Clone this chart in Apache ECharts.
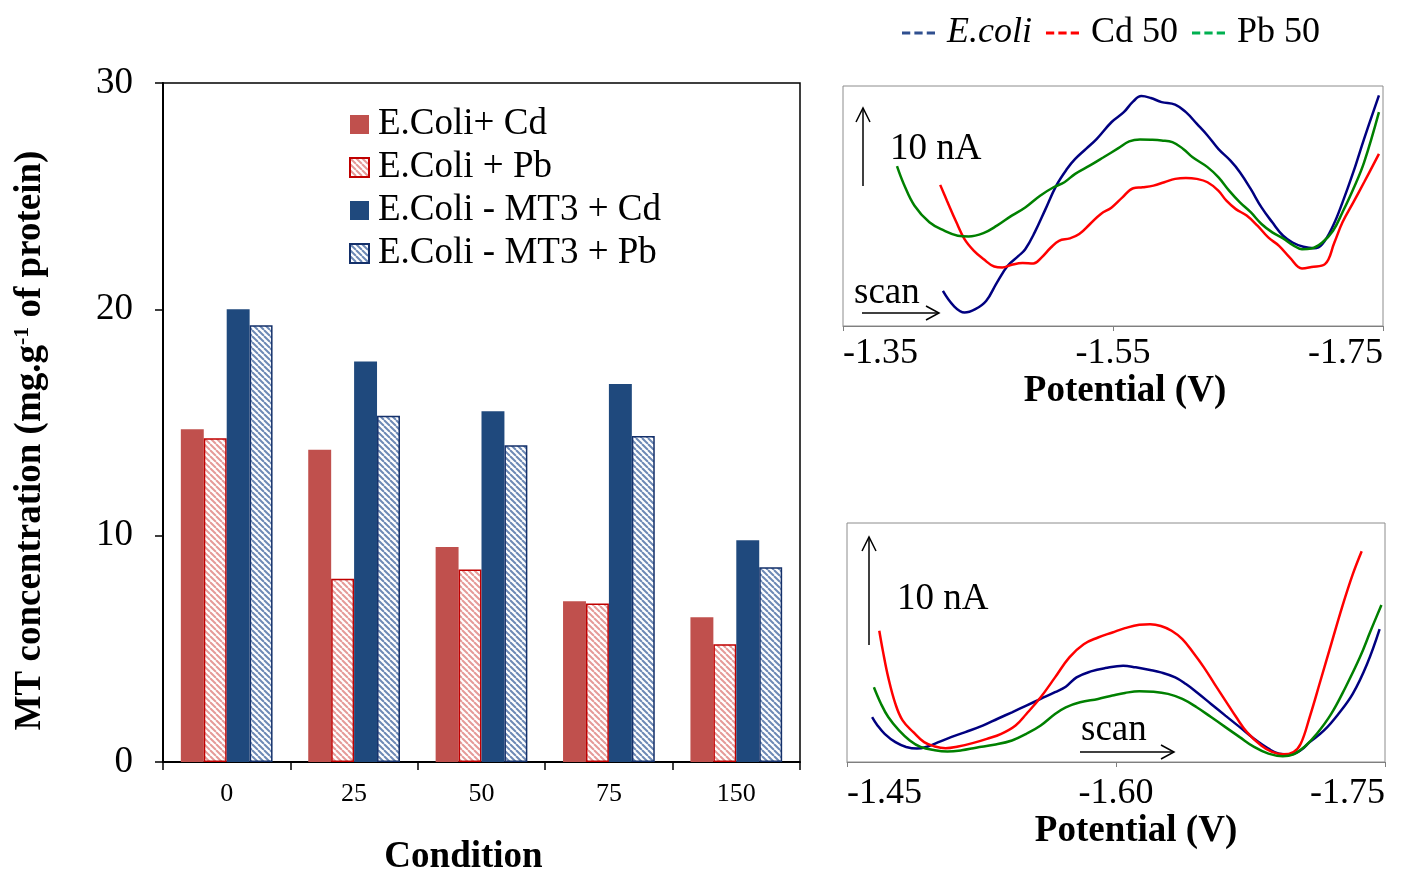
<!DOCTYPE html>
<html>
<head>
<meta charset="utf-8">
<script src="https://cdn.jsdelivr.net/npm/echarts@6/dist/echarts.min.js"></script>
<style>
  html, body { margin: 0; padding: 0; background: #fff; }
  #chart { width: 1404px; height: 871px; }
</style>
</head>
<body>
<div id="chart"></div>
<script>
// bar chart data
const conditions = ['0', '25', '50', '75', '150'];
const ecoliCd = [14.7, 13.8, 9.5, 7.1, 6.4];
const ecoliPb = [14.3, 8.1, 8.5, 7.0, 5.2];
const mt3Cd = [20.0, 17.7, 15.5, 16.7, 9.8];
const mt3Pb = [19.3, 15.3, 14.0, 14.4, 8.6];
const barTicks = [0, 10, 20, 30];

// voltammograms, top panel: [potential V, relative current]
const topEcoli = [[-1.424,14.6],[-1.432,8.4],[-1.440,5.6],[-1.448,7.0],[-1.456,10.4],[-1.464,18.1],[-1.472,25.1],[-1.480,29.2],[-1.485,32.0],[-1.492,39.0],[-1.500,48.7],[-1.508,58.5],[-1.516,65.5],[-1.522,69.6],[-1.530,73.8],[-1.538,78.0],[-1.549,85.0],[-1.558,89.1],[-1.565,93.6],[-1.571,95.8],[-1.578,95.0],[-1.586,93.3],[-1.596,92.2],[-1.604,89.1],[-1.612,84.3],[-1.620,79.4],[-1.628,73.8],[-1.637,68.9],[-1.644,64.1],[-1.652,57.1],[-1.660,49.4],[-1.668,43.2],[-1.676,37.6],[-1.683,34.8],[-1.691,33.0],[-1.699,32.4],[-1.705,34.1],[-1.713,41.8],[-1.720,51.5],[-1.728,64.1],[-1.736,78.0],[-1.747,96.1]];
const topCd = [[-1.422,58.8],[-1.427,52.2],[-1.434,43.2],[-1.440,36.2],[-1.447,31.3],[-1.454,27.9],[-1.462,24.8],[-1.468,24.4],[-1.475,25.5],[-1.483,26.2],[-1.491,26.0],[-1.497,28.5],[-1.504,32.7],[-1.510,35.5],[-1.518,36.5],[-1.525,38.3],[-1.533,42.5],[-1.541,46.7],[-1.549,49.4],[-1.557,53.6],[-1.565,57.4],[-1.572,57.8],[-1.580,58.5],[-1.588,59.9],[-1.596,61.3],[-1.604,61.7],[-1.612,61.3],[-1.620,59.9],[-1.628,56.4],[-1.634,52.2],[-1.641,48.7],[-1.649,46.0],[-1.657,41.8],[-1.665,36.9],[-1.673,33.4],[-1.681,28.5],[-1.690,24.0],[-1.697,24.6],[-1.707,25.8],[-1.714,34.8],[-1.720,43.2],[-1.728,51.5],[-1.736,59.9],[-1.747,71.7]];
const topPb = [[-1.390,66.6],[-1.395,59.2],[-1.403,50.1],[-1.414,43.2],[-1.425,39.7],[-1.435,37.6],[-1.443,37.3],[-1.454,38.7],[-1.464,41.8],[-1.475,46.0],[-1.485,49.4],[-1.496,54.3],[-1.506,57.8],[-1.514,59.9],[-1.522,63.4],[-1.533,66.9],[-1.543,70.3],[-1.554,74.1],[-1.562,76.9],[-1.570,77.7],[-1.578,77.6],[-1.586,77.3],[-1.594,76.6],[-1.602,73.8],[-1.609,70.3],[-1.620,66.2],[-1.628,62.0],[-1.636,56.4],[-1.644,51.5],[-1.652,47.4],[-1.660,42.5],[-1.668,39.0],[-1.676,36.5],[-1.683,33.8],[-1.690,32.0],[-1.697,32.3],[-1.705,34.8],[-1.713,39.7],[-1.720,47.4],[-1.728,57.1],[-1.736,68.2],[-1.747,89.1]];

// bottom panel
const botEcoli = [[-1.464,18.8],[-1.467,15.3],[-1.471,11.8],[-1.477,8.3],[-1.483,6.3],[-1.489,5.6],[-1.495,6.5],[-1.501,8.3],[-1.508,10.4],[-1.516,12.5],[-1.526,15.3],[-1.534,18.1],[-1.542,20.8],[-1.550,23.6],[-1.558,26.4],[-1.566,29.2],[-1.572,31.5],[-1.578,35.4],[-1.586,37.9],[-1.594,39.3],[-1.604,40.3],[-1.611,39.6],[-1.619,38.5],[-1.625,37.5],[-1.633,35.4],[-1.639,32.6],[-1.645,29.2],[-1.653,24.3],[-1.661,19.4],[-1.669,14.6],[-1.677,9.7],[-1.685,5.6],[-1.691,3.5],[-1.697,3.2],[-1.703,4.9],[-1.708,8.3],[-1.716,13.2],[-1.724,20.1],[-1.732,28.5],[-1.740,41.0],[-1.747,55.6]];
const botCd = [[-1.468,54.9],[-1.470,46.5],[-1.473,35.4],[-1.477,24.3],[-1.481,17.4],[-1.487,12.5],[-1.493,8.3],[-1.499,6.5],[-1.505,5.8],[-1.512,6.5],[-1.520,7.9],[-1.528,9.7],[-1.536,11.8],[-1.544,15.3],[-1.550,20.1],[-1.558,27.1],[-1.566,35.4],[-1.574,43.8],[-1.582,49.3],[-1.590,52.1],[-1.598,54.2],[-1.605,56.0],[-1.613,57.4],[-1.619,57.6],[-1.625,56.9],[-1.631,54.9],[-1.637,51.4],[-1.643,45.8],[-1.649,39.6],[-1.655,32.6],[-1.661,25.7],[-1.667,18.8],[-1.673,12.5],[-1.681,6.9],[-1.687,4.2],[-1.693,3.2],[-1.699,4.2],[-1.703,7.6],[-1.708,18.8],[-1.714,34.0],[-1.720,49.3],[-1.726,64.6],[-1.732,78.5],[-1.737,88.2]];
const botPb = [[-1.465,31.3],[-1.469,24.3],[-1.473,18.8],[-1.479,13.2],[-1.485,9.0],[-1.491,6.3],[-1.499,4.9],[-1.506,4.4],[-1.514,4.9],[-1.522,6.0],[-1.532,7.2],[-1.542,9.0],[-1.550,11.8],[-1.558,15.3],[-1.566,20.1],[-1.572,22.9],[-1.580,25.0],[-1.590,26.4],[-1.598,27.8],[-1.605,28.9],[-1.613,29.6],[-1.621,29.4],[-1.629,28.5],[-1.637,26.4],[-1.645,22.9],[-1.653,18.8],[-1.661,14.6],[-1.669,10.4],[-1.677,6.3],[-1.685,3.5],[-1.693,2.4],[-1.699,3.2],[-1.705,6.3],[-1.712,11.8],[-1.720,20.1],[-1.728,31.3],[-1.736,43.8],[-1.742,54.9],[-1.748,65.7]];

const FONT = '"Liberation Serif", "Times New Roman", serif';

// diagonal hatch fill for the Pb bars
function hatch(stripe) {
  const c = document.createElement('canvas');
  const s = 6;
  c.width = s; c.height = s;
  const ctx = c.getContext('2d');
  ctx.fillStyle = '#fff';
  ctx.fillRect(0, 0, s, s);
  ctx.strokeStyle = stripe;
  ctx.lineWidth = 2;
  for (const i of [-s, 0, s]) {
    ctx.beginPath();
    ctx.moveTo(i, 0);
    ctx.lineTo(i + s, s);
    ctx.stroke();
  }
  return { image: c, repeat: 'repeat' };
}

const chart = echarts.init(document.getElementById('chart'), null, { renderer: 'canvas' });

function barSeries(name, data, itemStyle) {
  return { name, type: 'bar', xAxisIndex: 0, yAxisIndex: 0, data, barGap: '0%', barCategoryGap: '28%', itemStyle };
}

function lineSeries(name, data, color, idx) {
  return {
    name, type: 'line', xAxisIndex: idx, yAxisIndex: idx, data, smooth: 0.4,
    showSymbol: false, lineStyle: { color, width: 2.5 }, itemStyle: { color }
  };
}

function potentialAxis(idx, min, max, interval, margin, nameGap, shift) {
  return {
    type: 'value', gridIndex: idx, min, max, interval, inverse: true,
    name: 'Potential (V)', nameLocation: 'middle', nameGap,
    nameTextStyle: { fontFamily: FONT, fontSize: 37, fontWeight: 'bold', color: '#000', padding: [0, 0, 0, shift] },
    axisLine: { lineStyle: { color: '#7f7f7f', width: 1 } },
    axisTick: { show: true, length: 5, lineStyle: { color: '#7f7f7f' } },
    axisLabel: { fontFamily: FONT, fontSize: 36, color: '#000', margin,
      alignMinLabel: 'right', alignMaxLabel: 'left', formatter: v => v.toFixed(2) },
    splitLine: { show: false }
  };
}

function arrow(points) {
  return { type: 'polyline', shape: { points }, style: { stroke: '#000', lineWidth: 1.5, fill: null } };
}
function label(text, x, y) {
  return { type: 'text', x, y, style: { text, font: '37px ' + FONT, fill: '#000', verticalAlign: 'middle' } };
}

chart.setOption({
  animation: false,
  grid: [
    { left: 163, top: 83, width: 637, height: 679, show: true, borderColor: '#000', borderWidth: 1.5, outerBoundsMode: 'none' },
    { left: 843, top: 86, width: 540, height: 240, show: true, borderColor: '#8c8c8c', borderWidth: 1, outerBoundsMode: 'none' },
    { left: 847, top: 523, width: 538, height: 239, show: true, borderColor: '#8c8c8c', borderWidth: 1, outerBoundsMode: 'none' }
  ],
  legend: [
    {
      data: ['E.Coli+ Cd', 'E.Coli + Pb', 'E.Coli - MT3 + Cd', 'E.Coli - MT3 + Pb'],
      orient: 'vertical', left: 344, top: 101, itemWidth: 19, itemHeight: 19, itemGap: 6,
      icon: 'rect', selectedMode: false,
      textStyle: { fontFamily: FONT, fontSize: 37, color: '#000', lineHeight: 36, padding: [0, 0, 0, 4] }
    },
    {
      data: [
        { name: 'E.coli', itemStyle: { color: '#2f4f8f' } },
        { name: 'Cd 50', itemStyle: { color: '#ff0000' } },
        { name: 'Pb 50', itemStyle: { color: '#00b050' } }
      ],
      orient: 'horizontal', left: 897, top: 10, itemWidth: 33, itemHeight: 4, itemGap: 14,
      icon: 'path://M0,0h8v3h-8z M12,0h8v3h-8z M24,0h8v3h-8z', selectedMode: false,
      formatter: n => n === 'E.coli' ? '{i|E.coli}' : n,
      textStyle: { fontFamily: FONT, fontSize: 36, color: '#000', padding: [0, 0, 0, 7],
        rich: { i: { fontFamily: FONT, fontSize: 36, fontStyle: 'italic', color: '#000' } } }
    }
  ],
  xAxis: [
    {
      type: 'category', gridIndex: 0, data: conditions,
      name: 'Condition', nameLocation: 'middle', nameGap: 77,
      nameTextStyle: { fontFamily: FONT, fontSize: 37, fontWeight: 'bold', color: '#000', padding: [0, 36, 0, 0] },
      axisLine: { lineStyle: { color: '#000', width: 2 } },
      axisTick: { show: true, length: 8, lineStyle: { color: '#000', width: 1.5 } },
      axisLabel: { fontFamily: FONT, fontSize: 26, color: '#000', margin: 19 }
    },
    potentialAxis(1, -1.75, -1.35, 0.2, 10, 42, 24),
    potentialAxis(2, -1.75, -1.45, 0.15, 14, 43, 40)
  ],
  yAxis: [
    {
      type: 'value', gridIndex: 0, min: barTicks[0], max: barTicks[barTicks.length - 1], interval: 10,
      name: '{b|MT concentration (mg.g}{s|-1}{b| of protein)}', nameLocation: 'middle', nameGap: 114,
      nameTextStyle: {
        padding: [0, 36, 0, 0],
        rich: {
          b: { fontFamily: FONT, fontSize: 37, fontWeight: 'bold', color: '#000' },
          s: { fontFamily: FONT, fontSize: 22, fontWeight: 'bold', color: '#000', padding: [0, 0, 16, 0] }
        }
      },
      axisLine: { show: true, lineStyle: { color: '#000', width: 2 } },
      axisTick: { show: true, length: 8, lineStyle: { color: '#000', width: 1.5 } },
      axisLabel: { fontFamily: FONT, fontSize: 37, color: '#000', margin: 30 },
      splitLine: { show: false }
    },
    { type: 'value', gridIndex: 1, min: 0, max: 100, show: false, splitLine: { show: false } },
    { type: 'value', gridIndex: 2, min: 0, max: 100, show: false, splitLine: { show: false } }
  ],
  series: [
    barSeries('E.Coli+ Cd', ecoliCd, { color: '#c0504d' }),
    barSeries('E.Coli + Pb', ecoliPb, { color: hatch('#e59a98'), borderColor: '#c00000', borderWidth: 1.5 }),
    barSeries('E.Coli - MT3 + Cd', mt3Cd, { color: '#1f497d' }),
    barSeries('E.Coli - MT3 + Pb', mt3Pb, { color: hatch('#6d89b5'), borderColor: '#14306a', borderWidth: 1.5 }),
    lineSeries('E.coli', topEcoli, '#000080', 1),
    lineSeries('Cd 50', topCd, '#ff0000', 1),
    lineSeries('Pb 50', topPb, '#008000', 1),
    lineSeries('E.coli', botEcoli, '#000080', 2),
    lineSeries('Cd 50', botCd, '#ff0000', 2),
    lineSeries('Pb 50', botPb, '#008000', 2)
  ],
  graphic: [
    arrow([[863, 186], [863, 108]]),
    arrow([[856, 122], [863, 108], [870, 122]]),
    label('10 nA', 890, 149),
    label('scan', 854, 293),
    arrow([[862, 313], [939, 313]]),
    arrow([[926, 306], [939, 313], [926, 320]]),
    arrow([[869, 645], [869, 537]]),
    arrow([[862, 551], [869, 537], [876, 551]]),
    label('10 nA', 897, 599),
    label('scan', 1081, 730),
    arrow([[1080, 752], [1174, 752]]),
    arrow([[1161, 745], [1174, 752], [1161, 759]])
  ]
});
</script>
</body>
</html>
